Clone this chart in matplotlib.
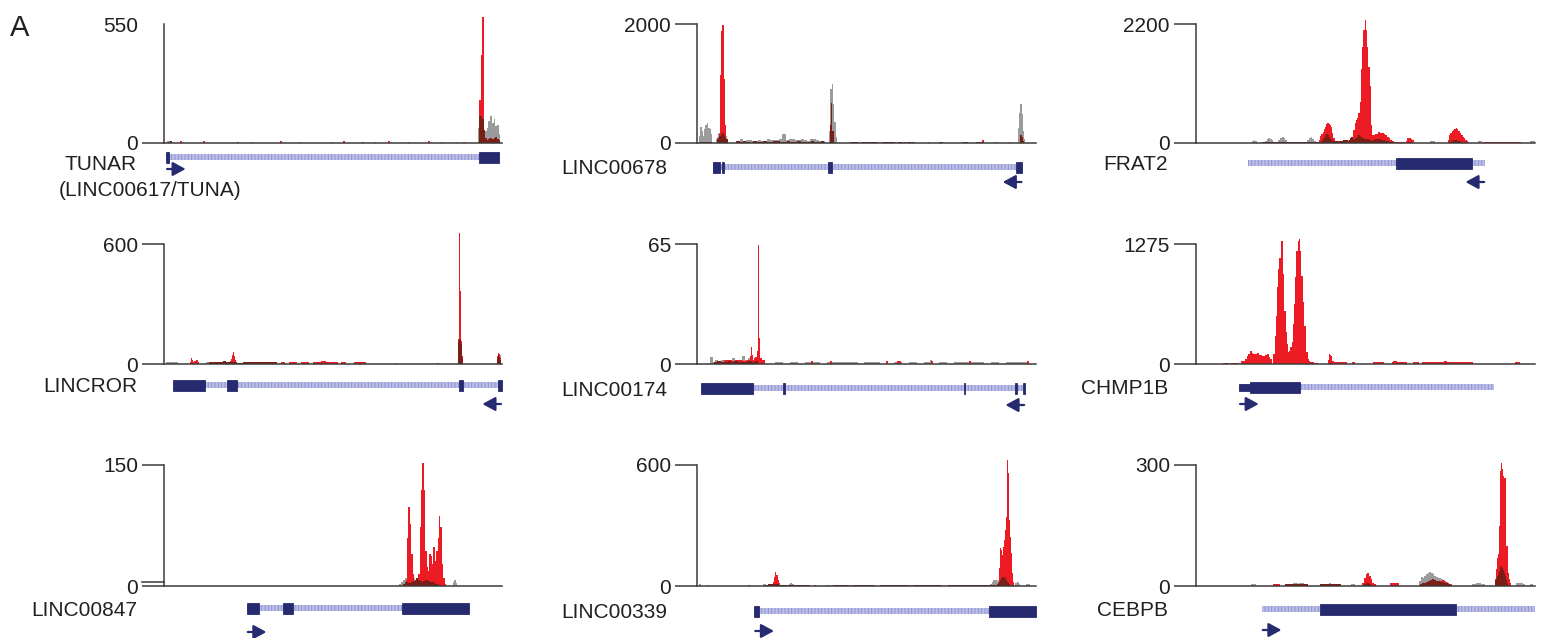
import matplotlib
matplotlib.use("Agg")
import matplotlib.pyplot as plt
import matplotlib.transforms as mtransforms
from matplotlib.patches import Rectangle

W, H = 1541, 638
plt.rcParams['font.family'] = ['Liberation Sans', 'DejaVu Sans']
plt.rcParams['hatch.linewidth'] = 0.6

RED = '#ED1C24'
GRAY = '#9B9B9B'
DARK = '#7A1E16'
NAVY = '#262A6E'
INTRON = '#B9BCE6'
INTRON_LINE = '#8A8FCC'
INK = '#231F20'
AXIS = '#3A3A3A'

# ---------------- data ----------------
# x is position in the browser window (0-100 %), signal tracks are
# lists of (first bin %, bin width %, heights)

NAMES = ['TUNAR', 'LINC00678', 'FRAT2', 'LINCROR', 'LINC00174', 'CHMP1B',
         'LINC00847', 'LINC00339', 'CEBPB']
YMAX = [550, 2000, 2200, 600, 65, 1275, 150, 600, 300]
STRAND = ['+', '-', '-', '-', '-', '+', '+', '+', '+']
ALIAS = '(LINC00617/TUNA)'

TUNAR_RED = [(93.3, 0.45, [200, 405, 583]),
             (94.8, 0.5, [20, 0, 15, 25, 0, 10, 18, 0, 12]),
             (1.8, 0.6, [8]), (4.7, 0.6, [10]), (11.5, 0.6, [8]), (21.6, 0.6, [6]),
             (34.3, 0.6, [8]), (52.9, 0.6, [8]), (58.6, 0.6, [6]), (66.3, 0.6, [8]),
             (78.1, 0.6, [8]), (88.5, 0.6, [6])]
TUNAR_GRAY = [(93.0, 0.5, [70, 125, 60, 39, 55, 70, 100, 125, 93, 109, 78, 85, 40]),
              (1.0, 0.6, [10, 6]), (26.0, 0.6, [5]), (40.0, 0.6, [5]), (49.0, 0.6, [6]),
              (62.0, 0.6, [5]), (72.0, 0.6, [5]), (82.0, 0.6, [6]), (86.0, 0.6, [5])]
TUNAR_DARK = [(93.2, 0.45, [125, 125, 110, 60, 25]),
              (95.5, 0.5, [15, 20, 25, 18, 22, 30, 20, 15]),
              (1.2, 0.6, [6, 8])]

L678_RED = [(6.6, 0.3, [150, 1150, 1880, 1990, 1070, 300]),
            (84.2, 0.5, [45]), (22.0, 0.6, [20]), (95.4, 0.4, [40, 30]),
            (48.5, 0.6, [20]), (61.0, 0.6, [15])]
L678_GRAY = [(0.5, 0.4, [120, 270, 200, 120, 230, 300, 340, 260, 230, 150]),
             (5.6, 0.35, [60, 100, 160, 300, 630, 400, 250, 180, 120]),
             (11.7, 0.9, [40, 60, 30, 50, 55, 40, 35, 45, 30, 40, 60, 50, 45, 55, 60,
                          150, 50, 70, 60, 55, 45, 60, 50, 40, 60, 70, 50, 40, 30]),
             (38.9, 0.4, [200, 900, 990, 650, 350, 100]),
             (94.7, 0.35, [250, 500, 650, 490, 200, 60]),
             (88.0, 0.6, [25]), (92.0, 0.6, [20]), (68.0, 0.6, [15])]
L678_DARK = [(0.5, 0.5, [25, 25, 20, 25, 25, 20, 25, 20]),
             (5.8, 0.4, [60, 80, 120, 150, 160, 130, 90, 60]),
             (39.1, 0.4, [300, 670, 200]),
             (95.3, 0.4, [130, 100, 40]),
             (11.5, 1.0, [30, 20, 30, 25, 0, 30, 20, 25, 30, 20, 25, 40, 30, 25, 20, 30,
                          25, 20, 30, 25, 20, 25, 30, 20, 25, 30]),
             (45.0, 1.2, [20, 20, 0, 20, 25, 20, 20, 0, 20, 20, 20, 0, 20, 0, 20, 20, 0,
                          0, 0, 0, 0, 0, 20, 0, 0, 0, 0, 0, 20, 0, 0, 20, 20])]

FRAT2_RED = [(36.3, 0.35, [60, 127, 170, 200, 250, 300, 346, 364, 350, 328, 290, 182, 100]),
             (41.0, 0.6, [40, 30, 25, 30, 20, 30, 40, 50, 60]),
             (46.4, 0.37, [243, 364, 425, 455, 546, 764, 1365, 1784, 2093, 2275, 2093,
                           1784, 1400, 1056, 330, 145]),
             (52.3, 0.5, [145, 170, 170, 200, 190, 180, 160, 145, 120, 90, 60, 30]),
             (58.5, 0.6, [20, 15, 15, 20, 15]),
             (61.8, 0.5, [40, 90, 90, 80, 50]),
             (74.2, 0.4, [60, 145, 180, 218, 240, 255, 273, 260, 218, 180, 145, 110, 90,
                          60, 30]),
             (84.7, 0.8, [15, 20, 15, 20, 15, 15, 20, 15, 15, 20, 10, 15, 12, 15])]
FRAT2_GRAY = [(16.5, 0.5, [30, 50, 40]), (20.3, 0.5, [40, 70, 90, 80, 50]),
              (24.3, 0.5, [60, 100, 110, 90, 50]), (32.8, 0.5, [50, 100, 109, 80, 40]),
              (43.5, 0.5, [40, 60, 50]), (69.0, 0.5, [30, 40, 30]),
              (83.3, 0.5, [40, 30]), (98.5, 0.5, [30, 40, 35])]
FRAT2_DARK = [(19.5, 1.0, [15, 15, 20, 15, 15, 25, 15, 15, 15, 15, 20, 15, 15, 15, 15, 20, 15]),
              (36.8, 0.4, [30, 60, 100, 140, 164, 150, 120, 80, 40]),
              (40.5, 0.6, [30, 30, 25, 30, 40, 50, 60]),
              (45.0, 0.4, [60, 100, 109, 80, 60, 90, 120, 145, 130, 110, 90, 80, 73, 73,
                           70, 60, 50, 40]),
              (52.2, 0.6, [60, 73, 73, 70, 60, 50, 40, 30, 20, 15]),
              (74.5, 0.6, [25, 40, 55, 50, 40, 30])]

ROR_RED = [(86.9, 0.3, [124, 653, 364, 116, 40]),
           (19.5, 0.3, [15, 25, 45, 61, 41, 20]),
           (7.6, 0.35, [12, 28, 18, 10, 14, 20, 18, 10]),
           (98.4, 0.3, [40, 53, 50, 30]),
           (34.5, 1.2, [8, 0, 12, 10, 0, 8, 12, 0, 10, 8, 15, 12, 10, 8, 0, 10, 0, 0, 8,
                        10, 10])]
ROR_GRAY = [(99.0, 0.3, [45, 45]), (0.6, 0.6, [8, 8, 8, 8, 8, 8]),
            (12.5, 0.8, [8, 8, 0, 8, 8]), (26.3, 0.8, [8, 0, 8, 0, 8, 0, 8]),
            (58.7, 0.6, [8]), (68.5, 0.6, [6]), (80.6, 0.6, [6])]
ROR_DARK = [(86.9, 0.3, [110, 124, 124, 100, 30]),
            (98.4, 0.3, [30, 45, 35, 20]),
            (13.4, 1.0, [10, 10, 10, 12, 15, 12, 10, 8, 5, 5, 8, 10, 12, 10, 10, 10, 8,
                         10, 10, 8])]

L174_RED = [(15.6, 0.33, [4.5, 9, 5, 2, 3, 4, 6.9, 64.5, 14, 1.5]),
            (8.0, 1.1, [2.4, 2.4, 1.5, 2, 2.4, 1.5, 2, 2.4, 1.5, 3, 2]),
            (33.5, 0.6, [1.5]), (39.1, 0.6, [1.5]), (55.7, 0.6, [1.5]),
            (59.0, 0.6, [1.5, 1.5]), (68.9, 0.6, [1.5]), (80.1, 0.6, [1.5]),
            (97.2, 0.6, [1.5])]
L174_GRAY = [(3.8, 0.8, [3.6, 1, 2.4, 0, 2.4, 1.5, 2, 1.5, 3, 2, 1, 1.5, 4.5, 2, 3,
                         2.4, 1.5]),
             (23.0, 2.2, [1, 0, 1, 0, 1, 1, 0, 1, 1, 1, 1, 0, 1, 1, 0, 0, 1, 0, 1, 0,
                          1, 0, 1, 0, 1, 1, 1, 1, 0, 1, 0, 1, 1, 1]),
             (68.7, 0.5, [2.4])]
L174_DARK = [(5.0, 1.0, [1, 1.5, 1, 1, 1.5, 1, 1.5, 1, 1, 1, 1.5, 1, 1.5])]

CHMP_RED = [(8.0, 0.6, [11, 11, 11, 0, 11, 11, 11]),
            (13.4, 0.5, [32, 30, 53, 80, 106, 138, 120, 106, 110, 117, 100, 95, 90, 85,
                         100, 106, 74, 53]),
            (22.8, 0.36, [106, 300, 513, 815, 1007, 1130, 1310, 1310, 954, 566, 336, 212,
                          124, 138, 180, 233, 424, 636, 922, 1198, 1304, 1325, 1198, 933,
                          657, 403, 400, 127, 53, 32]),
            (33.6, 0.6, [21, 21, 15, 15]),
            (38.8, 0.35, [40, 106, 100, 85, 30]),
            (40.5, 0.5, [21, 21, 21, 21, 21, 21, 21, 21]),
            (45.9, 0.5, [21, 21]),
            (52.3, 0.5, [21, 21, 21, 21, 21, 21]),
            (57.7, 0.5, [21, 32, 32, 21, 21, 21, 21, 21, 21]),
            (64.1, 0.5, [21, 21, 21]),
            (66.6, 0.5, [21, 21, 21, 21, 21, 21, 21, 21, 21, 21, 21, 21, 21, 32, 32, 21,
                         21, 21, 21, 21, 21, 21, 21, 21, 21, 21, 21, 21, 21, 21]),
            (94.1, 0.5, [21, 21, 21])]
CHMP_GRAY = []
CHMP_DARK = []

L847_RED = [(71.1, 0.41, [3, 8, 60, 98, 77, 40, 15, 5, 3, 3, 15, 73, 119, 152, 119, 44,
                          23, 19, 40, 37, 27, 48, 31, 44, 60, 87, 73, 27, 10, 3])]
L847_GRAY = [(69.5, 0.6, [3, 5, 8, 10, 8, 5, 8, 10, 8, 6, 5, 5, 6, 8, 5, 4, 5, 8]),
             (85.5, 0.4, [5, 8, 4])]
L847_DARK = [(70.7, 0.5, [3, 5, 5, 4, 4, 5, 6, 8, 10, 8, 6, 5, 6, 8, 8, 6, 5, 5, 4, 3, 2])]

L339_RED = [(89.1, 0.3, [88, 187, 178, 154, 195, 228, 278, 344, 625, 559, 327, 245, 162,
                         63, 21]),
            (22.0, 0.35, [10, 21, 46, 71, 55, 30, 13]),
            (14.9, 0.6, [7]), (32.6, 0.6, [7]), (34.5, 0.6, [7]), (56.2, 0.6, [7]),
            (58.6, 0.6, [7]), (78.7, 0.6, [7]), (81.6, 0.6, [7])]
L339_GRAY = [(86.4, 0.5, [10, 20, 30, 30, 25, 30]), (93.8, 0.5, [15, 20, 10]),
             (0.5, 0.6, [8]), (2.9, 0.6, [6]), (8.8, 0.6, [6]), (19.6, 0.6, [8]),
             (27.0, 0.5, [8, 13, 8]), (38.0, 0.6, [5, 5]),
             (43.0, 0.8, [6, 6, 6, 0, 6, 6, 6, 6]),
             (54.0, 0.8, [6, 6, 6, 6, 0, 6, 6, 0, 0, 6, 6, 6, 6, 6]),
             (74.0, 0.6, [6, 6]), (97.0, 0.6, [8, 8])]
L339_DARK = [(88.5, 0.3, [10, 15, 20, 30, 40, 46, 46, 40, 46, 30, 20, 15, 10]),
             (20.0, 0.8, [5, 8, 10, 8, 8, 5, 5, 6, 5, 5, 6, 5, 5, 5, 5, 5]),
             (40.0, 2.0, [4, 4, 0, 4, 4, 4, 0, 4, 4, 4, 4, 0, 4, 4, 4, 4, 0, 4, 4, 4, 4,
                          4, 4, 4])]

CEBPB_RED = [(88.2, 0.3, [17, 41, 70, 79, 149, 285, 305, 290, 273, 269, 269, 99, 99, 33,
                          17, 8]),
             (49.0, 0.5, [8, 21, 29, 31, 25, 17, 8, 4]),
             (71.5, 0.5, [10, 12, 14, 12, 10, 8, 6, 5]),
             (57.2, 0.5, [8, 8, 8, 8, 8]),
             (22.8, 0.5, [4, 4, 4, 4])]
CEBPB_GRAY = [(65.8, 0.5, [12, 23, 20, 25, 29, 33, 35, 31, 29, 25, 23, 21, 20, 17, 14, 12,
                           10, 6, 4]),
              (16.3, 0.5, [4, 4, 4]), (27.5, 0.6, [4, 6, 8, 8, 6, 8, 8, 6, 4]),
              (37.5, 0.6, [4, 5, 6, 7, 6, 5, 4]), (45.8, 0.6, [4, 4]),
              (81.5, 0.6, [4, 6, 8, 8, 6, 5]), (94.5, 0.5, [8, 8, 8, 8, 6]),
              (98.5, 0.5, [4, 4])]
CEBPB_DARK = [(88.2, 0.3, [12, 18, 25, 30, 37, 50, 48, 45, 40, 33, 25, 17, 8]),
              (49.5, 0.5, [5, 8, 8, 6]),
              (66.0, 0.6, [5, 8, 8, 10, 12, 15, 17, 14, 12, 12, 10, 10, 8, 8, 6]),
              (26.3, 0.6, [4, 4, 5, 5, 6, 6, 5, 5, 4, 4, 4]),
              (36.6, 0.6, [4, 4, 4, 5, 5, 5, 4, 4, 4, 4])]

REDS = [TUNAR_RED, L678_RED, FRAT2_RED, ROR_RED, L174_RED, CHMP_RED, L847_RED,
        L339_RED, CEBPB_RED]
GRAYS = [TUNAR_GRAY, L678_GRAY, FRAT2_GRAY, ROR_GRAY, L174_GRAY, CHMP_GRAY, L847_GRAY,
         L339_GRAY, CEBPB_GRAY]
DARKS = [TUNAR_DARK, L678_DARK, FRAT2_DARK, ROR_DARK, L174_DARK, CHMP_DARK, L847_DARK,
         L339_DARK, CEBPB_DARK]

# gene models: transcript span, coding exons, UTR-only exons
SPANS = [(0.6, 99.1), (4.8, 96.0), (15.4, 85.3), (2.7, 100.0), (1.2, 96.8),
         (12.7, 87.9), (24.5, 90.2), (16.9, 99.9), (19.4, 100.0)]
EXONS = [[(0.6, 1.5), (93.2, 99.1)],
         [(4.8, 6.8), (7.5, 8.0), (38.7, 39.9), (94.1, 96.0)],
         [(59.0, 81.3)],
         [(2.7, 12.1), (18.7, 21.7), (87.2, 88.4), (98.8, 100.0)],
         [(1.2, 16.6), (25.5, 26.1), (78.9, 79.2), (93.9, 94.4), (96.2, 96.8)],
         [(15.9, 30.7)],
         [(24.5, 28.2), (35.1, 38.1), (70.5, 90.2)],
         [(16.9, 18.2), (86.2, 99.9)],
         [(36.6, 76.6)]]
UTRS = [[], [], [], [], [], [(12.7, 15.9)], [], [], []]

# ---------------- layout (pixels) ----------------
COLS = [(164, 502), (697, 1036), (1196, 1535)]
ROWS = [(24, 143), (244, 364), (465, 586)]
LABEL_RIGHT = [137, 667, 1168]
GENE_DY = [14, 24, 20, 21, 24, 23, 22, 25, 23]
ARROW_DY = [26, 39, 39, 40, 41, 40, 46, 45, 44]


def fig_box(x0, y0, x1, y1):
    return [x0 / W, 1 - y1 / H, (x1 - x0) / W, (y1 - y0) / H]


def draw_track(ax, segments, color, z):
    for start, step, heights in segments:
        xs = [start + i * step for i in range(len(heights))]
        ax.bar(xs, heights, width=step * 1.08, align='edge', color=color,
               linewidth=0, zorder=z, clip_on=False)


fig = plt.figure(figsize=(W / 100, H / 100), dpi=100)
fig.text(10 / W, 1 - 28 / H, 'A', fontsize=21, color=INK, va='center', ha='left')

for i in range(9):
    r, c = divmod(i, 3)
    x0, x1 = COLS[c]
    top, zero = ROWS[r]

    ax = fig.add_axes(fig_box(x0, top, x1, zero))
    ax.set_xlim(0, 100)
    ax.set_ylim(0, YMAX[i])
    draw_track(ax, GRAYS[i], GRAY, 2)
    draw_track(ax, REDS[i], RED, 3)
    draw_track(ax, DARKS[i], DARK, 4)
    for side in ['top', 'right']:
        ax.spines[side].set_visible(False)
    for side in ['left', 'bottom']:
        ax.spines[side].set_color(AXIS)
        ax.spines[side].set_linewidth(1.1)
        ax.spines[side].set_zorder(5)
    ax.set_xticks([])
    ax.set_yticks([0, YMAX[i]])
    ax.set_yticklabels(['0', str(YMAX[i])])
    ax.tick_params(axis='y', length=15.8, width=1.1, color=AXIS, pad=3,
                   labelsize=15, labelcolor=INK)
    if i == 0:
        ax.yaxis.get_major_ticks()[1].tick1line.set_visible(False)
    if i == 6:
        tr = mtransforms.blended_transform_factory(ax.transAxes, ax.transData)
        ax.plot([-22 / (x1 - x0), 0], [5, 5], color=AXIS, lw=1.1, transform=tr,
                clip_on=False)

    # gene model
    g = fig.add_axes(fig_box(x0, zero + 2, x1, zero + 62))
    g.set_xlim(0, 100)
    g.set_ylim(zero + 62, zero + 2)
    g.axis('off')
    gy = zero + GENE_DY[i]
    s, e = SPANS[i]
    g.add_patch(Rectangle((s, gy - 2.6), e - s, 5.2, facecolor=INTRON,
                          edgecolor=INTRON_LINE, hatch='|||||', linewidth=0,
                          zorder=1, clip_on=False))
    for a, b in EXONS[i]:
        g.add_patch(Rectangle((a, gy - 5.5), b - a, 11, facecolor=NAVY,
                              edgecolor=NAVY, linewidth=0.6, zorder=2, clip_on=False))
    for a, b in UTRS[i]:
        g.add_patch(Rectangle((a, gy - 3.5), b - a, 7, facecolor=NAVY,
                              edgecolor=NAVY, linewidth=0.6, zorder=2, clip_on=False))
    ay = zero + ARROW_DY[i]
    if STRAND[i] == '+':
        a0, a1 = s + 0.3, s + 5.8
    else:
        a0, a1 = e - 0.3, e - 5.8
    g.annotate('', xy=(a1, ay), xytext=(a0, ay),
               arrowprops=dict(arrowstyle='-|>,head_length=0.55,head_width=0.3',
                               color=NAVY, lw=1.6, shrinkA=0, shrinkB=0,
                               mutation_scale=14))

    ly = gy + (7 if i == 0 else 2)
    fig.text(LABEL_RIGHT[c] / W, 1 - ly / H, NAMES[i], fontsize=15, color=INK,
             ha='right', va='center')
    if i == 0:
        fig.text(59 / W, 1 - 190 / H, ALIAS, fontsize=15, color=INK,
                 ha='left', va='center')

fig.savefig('out.png', dpi=100)
